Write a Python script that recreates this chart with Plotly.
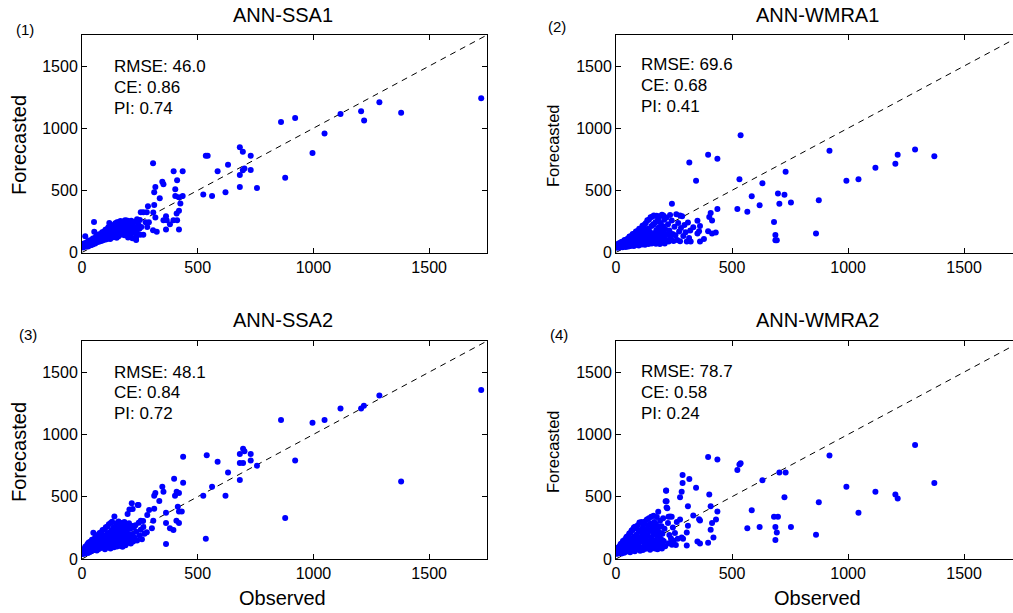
import plotly.graph_objects as go

W, H = 1013, 613
FONT = "Liberation Sans, Arial, sans-serif"

titles = ["ANN-SSA1", "ANN-WMRA1", "ANN-SSA2", "ANN-WMRA2"]
panel_tags = ["(1)", "(2)", "(3)", "(4)"]
rmse = ["46.0", "69.6", "48.1", "78.7"]
ce = ["0.86", "0.68", "0.84", "0.58"]
pi = ["0.74", "0.41", "0.72", "0.24"]
tick_vals = [0, 500, 1000, 1500]
diag_limits = [0, 1750]

# (observed, forecasted) pairs for each model
ssa1_points = [
    (1,48),(3,62),(4,41),(7,55),(9,73),(11,46),(13,58),(14,131),(16,77),(17,50),(19,67),(21,81),
    (23,57),(24,72),(26,49),(27,93),(29,63),(31,79),(33,56),(34,99),(36,68),(37,86),(39,60),
    (41,97),(43,77),(44,88),(46,65),(47,113),(49,80),(51,72),(52,246),(53,166),(54,97),(56,116),
    (57,73),(59,89),(61,128),(63,99),(64,82),(66,109),(67,137),(69,93),(71,104),(73,86),(74,146),
    (76,117),(77,96),(79,114),(81,147),(83,92),(84,131),(86,102),(87,163),(89,134),(91,99),
    (93,121),(94,166),(96,149),(97,106),(99,131),(101,184),(103,104),(104,152),(106,125),(107,187),
    (109,143),(111,110),(113,165),(114,204),(116,128),(118,238),(119,153),(121,176),(122,108),
    (124,207),(126,157),(127,131),(129,188),(131,218),(133,142),(134,175),(136,123),(138,222),
    (139,201),(141,155),(143,185),(144,235),(146,133),(148,212),(149,167),(151,243),(153,153),
    (154,192),(156,223),(158,131),(159,246),(161,188),(163,157),(164,232),(166,254),(168,202),
    (169,145),(171,178),(173,242),(174,218),(176,155),(178,193),(179,250),(181,222),(183,139),
    (184,203),(186,259),(188,165),(189,240),(191,207),(193,153),(194,257),(196,179),(198,231),
    (199,121),(201,202),(203,251),(205,167),(207,235),(209,143),(211,212),(213,256),(216,187),
    (218,115),(221,238),(224,162),(227,247),(230,203),(233,125),(234,100),(237,183),(241,146),
    (244,224),(248,192),(250,262),(128,170),(142,205),(157,180),(172,225),(186,210),(150,118),
    (238,268),(233,120),(251,142),(265,142),(256,206),(282,206),(289,244),(275,244),(254,324),
    (265,324),(280,324),(285,372),(307,718),(312,485),(317,527),(312,383),(308,321),(317,281),
    (307,179),(323,166),(336,436),(347,570),(352,549),(352,260),(363,292),(363,185),(366,260),
    (380,228),(395,260),(418,444),(396,653),(403,455),(403,509),(411,581),(419,185),(411,260),
    (409,313),(419,335),(425,394),(435,455),(435,653),(524,466),(543,779),(535,779),(562,455),
    (586,653),(620,485),(631,707),(682,527),(682,624),(695,811),(682,846),(695,661),(702,675),
    (729,664),(729,779),(756,519),(878,602),(860,1051),(921,1083),(996,800),(1048,958),
    (1117,1115),(1219,1062),(1206,1137),(1285,1209),(1379,1124),(1725,1242),
]

wmra1_points = [
    (1,52),(3,44),(5,63),(6,38),(8,55),(10,71),(11,47),(13,59),(15,40),(16,77),(18,52),(20,64),
    (22,45),(23,85),(25,57),(27,69),(28,42),(30,88),(32,61),(34,50),(35,79),(37,101),(39,55),
    (41,66),(42,44),(44,102),(46,74),(48,58),(49,91),(51,112),(53,48),(55,78),(56,62),(58,128),
    (60,93),(62,53),(63,71),(65,131),(67,86),(69,58),(70,110),(72,149),(74,66),(76,90),(77,52),
    (79,151),(81,120),(83,74),(84,60),(86,169),(88,97),(90,133),(91,68),(93,172),(95,84),
    (97,139),(98,56),(100,191),(102,108),(104,73),(105,158),(107,194),(109,88),(111,128),
    (112,64),(114,216),(116,165),(118,81),(119,141),(121,221),(123,97),(125,62),(126,183),
    (128,236),(130,118),(132,76),(133,147),(135,259),(137,93),(139,192),(140,68),(142,264),
    (144,131),(146,167),(147,86),(149,284),(151,105),(153,213),(154,73),(156,287),(158,143),
    (160,94),(161,225),(163,298),(165,81),(167,157),(168,123),(170,243),(172,71),(174,182),
    (175,296),(177,104),(179,147),(181,268),(182,83),(184,202),(186,128),(188,292),(189,68),
    (191,178),(193,237),(195,96),(196,137),(198,303),(200,81),(202,212),(204,121),(206,162),
    (208,263),(210,73),(212,187),(215,102),(218,282),(221,143),(224,227),(227,89),(230,178),
    (233,302),(236,118),(240,258),(244,148),(248,93),(252,207),(256,138),(260,308),(264,101),
    (268,237),(272,168),(276,91),(280,198),(285,292),(290,133),(295,222),(300,163),(305,88),
    (310,242),(315,117),(320,177),(161,225),(204,298),(241,392),(276,298),
    (322,88),(333,203),(351,152),(358,171),(351,256),(362,213),(362,88),(379,109),
    (397,171),(414,152),(430,160),(402,285),(414,258),(408,317),(437,349),(316,725),(345,578),
    (397,786),(437,754),(537,943),(523,349),(532,589),(566,328),(585,453),(619,381),(631,557),
    (687,99),(693,99),(687,141),(681,245),(698,474),(704,392),(726,464),(754,402),(731,650),
    (862,152),(874,421),(920,818),(993,578),(1045,589),(1118,682),(1204,714),(1214,786),
    (1289,829),(1372,775),
]

ssa2_points = [
    (1,46),(3,58),(4,40),(6,73),(8,52),(9,81),(11,61),(13,45),(14,98),(16,70),(18,55),(19,104),
    (21,82),(23,62),(24,121),(26,48),(28,89),(29,133),(31,70),(33,105),(34,56),(36,139),(38,87),
    (39,113),(41,64),(43,155),(44,93),(46,128),(48,72),(49,211),(51,158),(53,111),(54,82),
    (56,135),(58,178),(59,90),(61,117),(63,188),(64,68),(66,145),(68,104),(69,193),(71,133),
    (73,80),(74,157),(76,209),(78,109),(79,146),(81,88),(83,214),(84,173),(86,122),(88,96),
    (89,232),(91,149),(93,184),(94,105),(96,236),(98,138),(99,78),(101,189),(103,254),(104,115),
    (106,168),(108,92),(109,258),(111,209),(113,137),(114,100),(116,278),(118,175),(119,125),
    (121,212),(123,85),(124,288),(126,147),(128,233),(130,300),(131,108),(133,193),(135,132),
    (136,251),(138,95),(140,341),(141,202),(143,163),(145,262),(146,115),(148,225),(150,287),
    (151,100),(153,181),(155,137),(156,253),(158,302),(160,120),(161,198),(163,267),(165,161),
    (166,105),(168,227),(170,288),(171,132),(173,208),(175,98),(176,259),(178,178),(180,237),
    (181,118),(183,297),(185,153),(186,212),(188,110),(190,278),(192,179),(193,253),(195,128),
    (197,361),(199,202),(201,153),(203,287),(205,398),(207,167),(209,243),(211,125),(213,267),
    (215,447),(217,198),(219,401),(221,140),(224,253),(227,172),(231,270),(234,218),(238,148),
    (241,433),(245,292),(249,188),(254,235),(259,158),(264,305),(270,202),(120,160),(135,190),
    (150,215),(165,240),(110,175),(95,150),(175,210),(190,230),(80,130),
    (244,433),(254,307),(265,257),
    (280,214),(282,353),(290,393),(302,246),(308,307),(312,404),(312,508),(317,529),(347,580),
    (352,540),(334,465),(363,120),(363,289),(363,372),(380,246),(395,233),(419,289),(408,307),
    (431,382),(419,382),(414,420),(402,508),(409,540),(419,529),(398,644),(437,612),(437,821),
    (524,508),(535,163),(539,832),(562,580),(586,781),(620,508),(631,695),(682,634),(696,770),
    (682,770),(682,842),(702,864),(696,885),(729,791),(729,842),(756,749),(878,329),(921,791),
    (860,1115),(996,1094),(1048,1115),(1117,1209),(1206,1209),(1218,1230),(1285,1313),
    (1379,623),(1725,1356),
]

wmra2_points = [
    (1,50),(3,64),(4,42),(6,75),(7,55),(9,46),(10,93),(12,63),(14,48),(15,102),(17,75),(19,54),
    (20,121),(22,81),(24,45),(25,127),(27,98),(29,60),(30,145),(32,71),(34,113),(35,50),(37,152),
    (39,91),(40,123),(42,58),(44,171),(46,179),(47,97),(49,143),(51,66),(52,185),(54,118),
    (56,80),(57,204),(59,148),(61,54),(62,209),(64,131),(66,92),(67,228),(69,164),(71,70),
    (72,234),(74,143),(76,100),(77,253),(79,181),(81,62),(82,258),(84,158),(86,112),(88,197),
    (89,246),(91,78),(93,178),(94,271),(96,122),(98,218),(99,88),(101,293),(103,157),(104,66),
    (106,229),(108,141),(110,297),(111,95),(113,193),(115,249),(116,72),(118,273),(120,147),
    (121,218),(123,108),(125,302),(127,175),(128,82),(130,237),(132,131),(133,317),(135,193),
    (137,90),(139,271),(140,145),(142,327),(144,110),(146,225),(147,75),(149,282),(151,171),
    (152,340),(154,122),(156,253),(158,95),(160,195),(162,347),(163,143),(165,297),(167,85),
    (169,238),(170,152),(172,278),(174,110),(176,337),(178,188),(179,78),(181,252),(182,380),
    (184,135),(186,217),(188,95),(190,308),(192,162),(194,120),(196,263),(198,85),(200,203),
    (203,327),(206,143),(209,242),(212,102),(216,548),(218,464),(221,407),(224,288),(227,127),
    (230,193),(233,342),(237,165),(241,115),(245,253),(249,147),(254,208),(258,112),(262,297),
    (266,163),(130,190),(150,230),(170,210),(110,160),(95,140),(185,260),(200,150),
    (226,339),(240,339),(214,464),(218,414),(216,550),(276,318),
    (276,496),(283,539),(287,611),(287,675),(283,173),(289,163),(305,109),(305,213),(310,267),
    (310,424),(316,643),(345,571),(333,350),(351,141),(358,320),(362,310),(362,125),(397,131),
    (408,424),(402,518),(420,173),(408,235),(414,288),(431,318),(437,382),(397,819),(437,798),
    (523,715),(537,769),(532,758),(566,246),(585,392),(619,256),(631,633),(687,152),(693,213),
    (687,256),(681,339),(698,339),(704,694),(726,496),(754,256),(731,694),(862,195),(874,456),
    (920,830),(993,579),(1045,371),(1118,539),(1204,518),(1214,486),(1289,915),(1372,611),
]

panels = [ssa1_points, wmra1_points, ssa2_points, wmra2_points]

# layout geometry (pixels)
px_left = [82, 616, 82, 616]
px_right = [487, 1013, 487, 1013]
px_top = [35, 35, 341, 341]
px_bottom = [252.5, 252.5, 559, 559]
x_max = [1750, 1711, 1750, 1711]

def fx(p):
    return p / W

def fy(p):
    return 1 - p / H

fig = go.Figure()
layout = dict(
    width=W, height=H, margin=dict(l=0, r=0, t=0, b=0),
    paper_bgcolor="white", plot_bgcolor="white", showlegend=False,
    font=dict(family=FONT, size=16, color="black"),
)

for i, pts in enumerate(panels):
    n = i + 1
    xs = [p[0] for p in pts]
    ys = [p[1] for p in pts]
    xa = "x" if n == 1 else f"x{n}"
    ya = "y" if n == 1 else f"y{n}"
    fig.add_trace(go.Scatter(x=diag_limits, y=diag_limits, mode="lines", xaxis=xa, yaxis=ya,
                             line=dict(color="black", width=1, dash="6px,5px"), hoverinfo="skip"))
    fig.add_trace(go.Scatter(x=xs, y=ys, mode="markers", xaxis=xa, yaxis=ya,
                             marker=dict(color="#0000ff", size=6, line=dict(width=0))))
    axis_common = dict(showgrid=False, zeroline=False, showline=True, linecolor="black", linewidth=1,
                       ticks="inside", ticklen=5, tickcolor="black", tickwidth=1,
                       tickvals=tick_vals, tickfont=dict(family=FONT, size=16, color="black"),
                       automargin=False)
    layout[f"xaxis{'' if n == 1 else n}"] = dict(
        axis_common, domain=[fx(px_left[i]), fx(px_right[i])], range=[0, x_max[i]],
        anchor=ya, mirror="ticks")
    layout[f"yaxis{'' if n == 1 else n}"] = dict(
        axis_common, domain=[fy(px_bottom[i]), fy(px_top[i])], range=[0, diag_limits[1]],
        anchor=xa, mirror="ticks" if n in (1, 3) else False)

fig.update_layout(**layout)

ann = []
def add_text(text, x, y, size, xanchor="center", angle=0):
    ann.append(dict(text=text, x=fx(x), y=fy(y), xref="paper", yref="paper", showarrow=False,
                    xanchor=xanchor, yanchor="middle", textangle=angle,
                    font=dict(family=FONT, size=size, color="black")))

title_x = [283, 817, 283, 817]
title_y = [15, 15, 320, 320]
tag_x = [25, 557, 28, 559]
tag_y = [30, 26, 334, 334]
stat_x = [112, 639, 112, 639]
stat_y0 = [66.5, 64.5, 372, 371.5]
ylab_x = [19, 553, 19, 553]
ylab_y = [145, 146, 452, 452]
ylab_size = [20, 16.5, 20, 16.5]

for i in range(4):
    add_text(titles[i], title_x[i], title_y[i], 20)
    add_text(panel_tags[i], tag_x[i], tag_y[i], 15)
    add_text(f"RMSE: {rmse[i]}", stat_x[i], stat_y0[i], 17, xanchor="left")
    add_text(f"CE: {ce[i]}", stat_x[i], stat_y0[i] + 20.8, 17, xanchor="left")
    add_text(f"PI: {pi[i]}", stat_x[i], stat_y0[i] + 41.6, 17, xanchor="left")
    add_text("Forecasted", ylab_x[i], ylab_y[i], ylab_size[i], angle=-90)

add_text("Observed", 282, 598, 20)
add_text("Observed", 817, 598, 20)

fig.update_layout(annotations=ann)
fig.write_html("out.html")
